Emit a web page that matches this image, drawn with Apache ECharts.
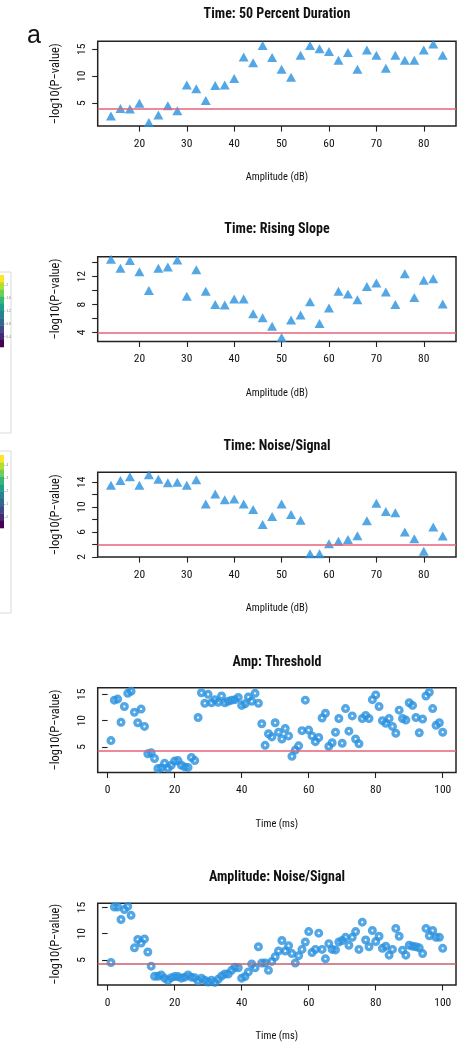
<!DOCTYPE html>
<html>
<head>
<meta charset="utf-8">
<script src="https://cdn.jsdelivr.net/npm/echarts@6/dist/echarts.min.js"></script>
<style>
  html, body { margin: 0; padding: 0; background: #fff; }
  #chart { width: 462px; height: 1043px; }
</style>
</head>
<body>
<div id="chart"></div>
<script>
// Stimulus levels and time bins
const amplitudeDb = [14, 16, 18, 20, 22, 24, 26, 28, 30, 32, 34, 36, 38, 40, 42, 44, 46, 48,
  50, 52, 54, 56, 58, 60, 62, 64, 66, 68, 70, 72, 74, 76, 78, 80, 82, 84];
const timeMs = [1, 2, 3, 4, 5, 6, 7, 8, 9, 10, 11, 12, 13, 14, 15, 16, 17, 18, 19, 20,
  21, 22, 23, 24, 25, 26, 27, 28, 29, 30, 31, 32, 33, 34, 35, 36, 37, 38, 39, 40,
  41, 42, 43, 44, 45, 46, 47, 48, 49, 50, 51, 52, 53, 54, 55, 56, 57, 58, 59, 60,
  61, 62, 63, 64, 65, 66, 67, 68, 69, 70, 71, 72, 73, 74, 75, 76, 77, 78, 79, 80,
  81, 82, 83, 84, 85, 86, 87, 88, 89, 90, 91, 92, 93, 94, 95, 96, 97, 98, 99, 100];

// -log10(P-value) per amplitude level
const durationP = [2.6, 4.0, 3.9, 5.0, 1.4, 2.8, 4.5, 3.6, 8.4, 7.7, 5.5, 8.3, 8.4, 9.6,
  13.6, 12.5, 15.7, 13.5, 11.3, 9.8, 13.9, 15.7, 15.1, 14.6, 13.0, 14.4, 11.3, 14.9,
  13.9, 11.5, 13.9, 13.0, 13.0, 14.9, 16.0, 13.9];
const risingSlopeP = [14.5, 13.2, 14.3, 12.7, 10.0, 13.2, 13.4, 14.4, 9.2, 13.0, 9.9, 8.0,
  7.95, 8.8, 8.8, 6.7, 6.1, 4.9, 3.3, 5.8, 6.5, 8.4, 5.3, 7.5, 9.9, 9.5, 8.7, 10.6,
  11.1, 9.8, 8.0, 12.4, 9.0, 11.5, 11.7, 8.1];
const timeNoiseSignalP = [13.5, 14.3, 14.9, 13.5, 15.2, 14.5, 13.9, 14.0, 13.5, 14.4, 10.5,
  12.1, 11.2, 11.3, 10.5, 9.6, 7.2, 8.5, 10.5, 8.8, 7.9, 2.5, 2.5, 4.1, 4.5, 4.8, 5.4,
  7.8, 10.6, 9.3, 9.1, 6.0, 4.9, 2.9, 6.8, 5.35];

// -log10(P-value) per time bin
const thresholdP = [6.2, 13.9, 14.1, 9.7, 12.7, 15.2, 15.6, 11.6, 9.6, 12.2,
  8.9, 3.7, 3.9, 2.8, 0.9, 1.0, 1.9, 0.95, 1.5, 2.3,
  2.4, 1.5, 1.2, 1.1, 3.0, 2.4, 10.6, 15.3, 13.3, 15.0,
  13.4, 14.0, 13.5, 14.7, 13.4, 13.7, 13.9, 14.0, 14.4, 12.9,
  13.2, 14.5, 13.7, 15.2, 13.3, 9.4, 5.3, 7.5, 6.9, 9.6,
  7.8, 6.5, 8.5, 7.1, 3.2, 4.4, 5.2, 8.1, 13.9, 8.2,
  7.1, 6.0, 6.8, 10.5, 11.4, 5.1, 5.8, 7.8, 10.4, 5.7,
  12.3, 8.0, 10.9, 6.5, 5.6, 10.4, 11.0, 10.4, 14.0, 14.9,
  12.7, 10.0, 9.5, 10.4, 8.9, 7.6, 12.0, 10.4, 10.1, 13.4,
  12.9, 10.6, 7.7, 10.3, 14.7, 15.4, 12.3, 9.1, 9.6, 7.8];
const ampNoiseSignalP = [4.5, 15.1, 15.1, 12.7, 14.6, 15.2, 13.5, 7.3, 8.9, 8.2,
  9.0, 6.5, 3.8, 1.85, 1.85, 2.1, 1.5, 1.1, 1.6, 1.8,
  1.8, 1.5, 1.7, 2.1, 1.7, 1.6, 1.0, 1.5, 1.1, 0.75,
  1.1, 0.7, 1.3, 1.9, 2.3, 2.3, 3.0, 3.6, 3.5, 1.5,
  1.8, 2.7, 4.2, 3.5, 7.5, 4.4, 4.4, 3.0, 4.7, 5.6,
  6.7, 8.7, 6.7, 7.7, 6.2, 4.4, 5.8, 7.0, 8.4, 10.4,
  6.4, 7.0, 10.1, 7.0, 5.2, 8.1, 7.0, 6.9, 8.4, 8.7,
  9.3, 7.8, 9.3, 10.4, 7.0, 12.2, 8.8, 7.5, 10.6, 8.5,
  9.5, 7.2, 7.6, 5.9, 7.0, 11.0, 9.5, 6.85, 5.9, 7.8,
  7.6, 7.5, 7.3, 6.2, 11.0, 9.6, 10.6, 9.3, 9.3, 7.2];

// Significance thresholds (-log10 scale)
const thresholds = [4.05, 3.9, 3.95, 4.35, 4.25];

// Titles and axis text
const panelTitles = ['Time: 50 Percent Duration', 'Time: Rising Slope', 'Time: Noise/Signal',
  'Amp: Threshold', 'Amplitude: Noise/Signal'];
const xTitles = ['Amplitude (dB)', 'Amplitude (dB)', 'Amplitude (dB)', 'Time (ms)', 'Time (ms)'];
const yTitle = '\u2212log10(P\u2212value)';

// Tick positions and labelled ticks
const ampTicks = [20, 30, 40, 50, 60, 70, 80];
const timeTicks = [0, 20, 40, 60, 80, 100];
const yTicks = [[5, 10, 15], [4, 6, 8, 10, 12, 14], [2, 4, 6, 8, 10, 12, 14], [5, 10, 15], [5, 10, 15]];
const yLabels = [[5, 10, 15], [4, 8, 12], [2, 6, 10, 14], [5, 10, 15], [5, 10, 15]];

// Side colour-bar fragments
const viridisSteps = ['#FDE725', '#B5DE2B', '#6ECE58', '#35B779', '#1F9E89', '#26828E',
  '#31688E', '#3E4989', '#482878', '#440154'];
const barLabelsA = ['2', '1.6', '1.2', '0.8', '0.4'];
const barLabelsB = ['4', '3', '2', '1', '0'];

const FONT = "'Roboto Condensed', 'DejaVu Sans Condensed', 'Liberation Sans', sans-serif";
const BLUE = '#2991DF';
const RED = ['#E5637A', '#E5637A', '#E5637A', '#E5637A', '#C9616D'];

const panelX = [amplitudeDb, amplitudeDb, amplitudeDb, timeMs, timeMs];
const panelY = [durationP, risingSlopeP, timeNoiseSignalP, thresholdP, ampNoiseSignalP];
const gridTops = [41.3, 256.7, 472.3, 687.7, 903.3];
const gridH = 84.8;
const titleTops = [2, 217.5, 434, 650, 865];
const yRanges = [[0.74, 16.5], [2.71, 14.86], [1.95, 15.6], [0.13, 16.27], [0.2, 15.8]];
const ampRange = [11.2, 86.8];
const timeRange = [-2.96, 103.96];

const grids = [], xAxes = [], yAxes = [], series = [], titles = [];
for (let i = 0; i < 5; i++) {
  const isTime = i >= 3;
  grids.push({
    left: 97.7, right: 6, top: gridTops[i], height: gridH,
    show: true, borderColor: '#222', borderWidth: 1.5, backgroundColor: 'transparent'
  });
  titles.push({
    text: panelTitles[i], left: 272, top: titleTops[i], textAlign: 'center',
    textStyle: { fontFamily: FONT, fontWeight: 'bold', fontSize: 14, color: '#111' }
  });
  const xr = isTime ? timeRange : ampRange;
  const xt = isTime ? timeTicks : ampTicks;
  xAxes.push({
    type: 'value', gridIndex: i, min: xr[0], max: xr[1],
    axisLine: { show: false },
    splitLine: { show: false },
    axisTick: { show: true, length: 5.5, customValues: xt, lineStyle: { color: '#222', width: 1.1 } },
    axisLabel: { customValues: xt, margin: 12, fontFamily: FONT, fontSize: 11.5, color: '#111' },
    name: xTitles[i], nameLocation: 'middle', nameGap: 46,
    nameTextStyle: { fontFamily: FONT, fontSize: 10.5, color: '#111' }
  });
  yAxes.push({
    type: 'value', gridIndex: i, min: yRanges[i][0], max: yRanges[i][1],
    axisLine: { show: false },
    splitLine: { show: false },
    axisTick: { show: true, length: 5.5, customValues: yTicks[i], lineStyle: { color: '#222', width: 1.1 } },
    axisLabel: { show: true, rotate: 90, customValues: yLabels[i], margin: 10, fontFamily: FONT, fontSize: 11.5, color: '#111' },
    name: yTitle, nameLocation: 'middle', nameRotate: 90, nameGap: 35,
    nameTextStyle: { fontFamily: FONT, fontSize: 12.5, color: '#111' }
  });
  const pts = panelX[i].map((x, k) => [x, panelY[i][k]]);
  series.push({
    type: 'scatter', xAxisIndex: i, yAxisIndex: i, data: pts,
    symbol: isTime ? 'circle' : 'triangle',
    symbolSize: isTime ? 5.6 : [10, 9],
    itemStyle: isTime
      ? { color: 'rgba(255,255,255,0)', borderColor: BLUE, borderWidth: 3.4 }
      : { color: BLUE },
    silent: true,
    markLine: {
      silent: true, symbol: 'none', label: { show: false },
      lineStyle: { color: RED[i], width: 1.6, type: 'solid' },
      data: [{ yAxis: thresholds[i] }]
    }
  });
}

// Colour-bar fragments at the left margin
function colourBar(boxTop, boxBottom, barTop, barBottom, labels) {
  const els = [];
  els.push({ type: 'rect', shape: { x: -4, y: boxTop, width: 15, height: boxBottom - boxTop },
    style: { fill: '#fff', stroke: '#d0d0d0', lineWidth: 0.8 } });
  const n = viridisSteps.length;
  const h = (barBottom - barTop) / n;
  viridisSteps.forEach((c, k) => {
    els.push({ type: 'rect', shape: { x: -2, y: barTop + k * h, width: 6, height: h + 0.3 },
      style: { fill: c } });
  });
  const step = (barBottom - barTop) / (labels.length + 0.6);
  labels.forEach((t, k) => {
    const y = barTop + step * (k + 0.8);
    els.push({ type: 'line', shape: { x1: 4, y1: y, x2: 5.5, y2: y }, style: { stroke: '#888', lineWidth: 0.5 } });
    els.push({ type: 'text', x: 6.5, y: y, style: { text: t, fontSize: 3, fill: '#777',
      verticalAlign: 'middle', fontFamily: 'Liberation Sans' } });
  });
  return els;
}

const option = {
  animation: false,
  backgroundColor: '#fff',
  title: titles,
  grid: grids,
  xAxis: xAxes,
  yAxis: yAxes,
  series: series,
  graphic: [
    { type: 'text', x: 34, y: 36, style: { text: 'a', fontSize: 25, fill: '#111',
      fontFamily: 'Liberation Sans', align: 'center', verticalAlign: 'middle' } },
    ...colourBar(272, 433, 275, 347, barLabelsA),
    ...colourBar(451, 613, 455, 528, barLabelsB)
  ]
};

const chart = echarts.init(document.getElementById('chart'), null, { renderer: 'canvas' });
chart.setOption(option);
</script>
</body>
</html>
